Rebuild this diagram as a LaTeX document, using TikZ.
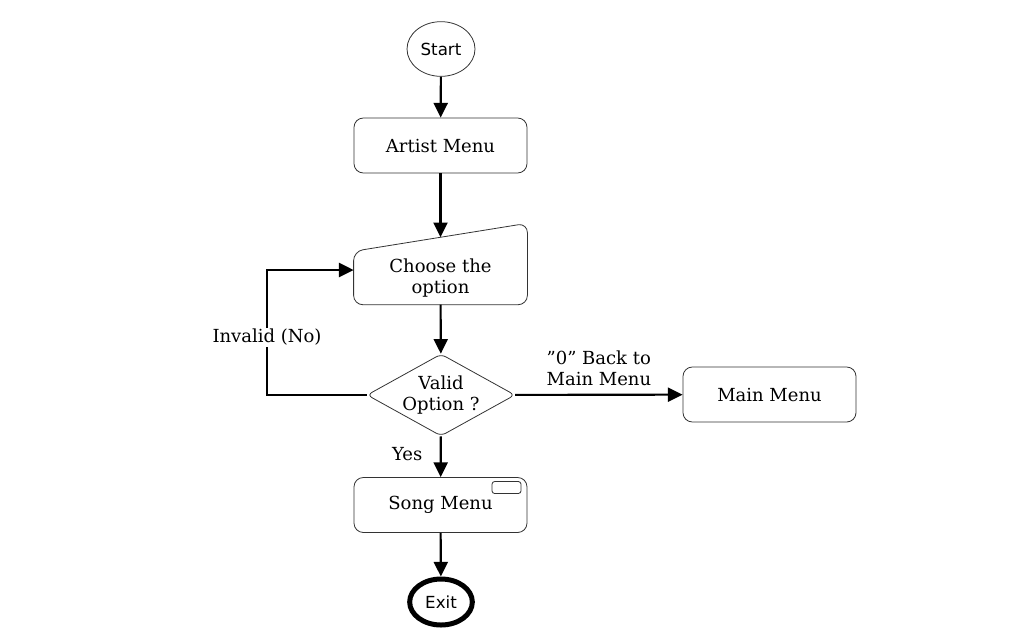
\documentclass[tikz,border=0pt]{standalone}
\usepackage{fontspec}
\setmainfont{DejaVu Serif}
\newfontfamily\termfont{DejaVu Sans}
\usetikzlibrary{arrows.meta,calc,shapes.geometric}
\tikzset{
    TE1/.style ={ellipse,minimum width = 51pt, minimum height = 41pt, inner sep=0pt, draw=black!80, line width=0.6pt, font=\termfont\fontsize{12.5}{14}\selectfont},
    TE2/.style ={ellipse,minimum width = 47pt, minimum height = 34.5pt, inner sep=0pt, draw, line width=3.75pt, font=\termfont\fontsize{12.5}{14}\selectfont},
    RA1/.style ={rectangle,rounded corners=7pt,minimum width = 129.75pt, minimum height = 41.25pt, draw=black!80, line width=0.6pt, align=center, font=\fontsize{13.5}{16}\selectfont},
    DI1/.style ={diamond,aspect=1.8,rounded corners=4pt,minimum width = 111pt, minimum height = 61.5pt, inner sep=0pt, draw=black!80, line width=0.6pt, align=center, font=\fontsize{13.5}{16}\selectfont},
    AR/.style ={-{Triangle[length=11pt,width=10.5pt]}, line width=1.6pt},
    LB/.style ={font=\fontsize{13.5}{16}\selectfont, align=left, inner sep=1pt}}

\begin{document}
\begin{tikzpicture}[x=0.75pt,y=-0.75pt]
        \useasboundingbox (0,0) rectangle (1031,640);
        \node[TE2] (exit) at(441,602){Exit};
        \node[RA1] (song) at(440.5,505){Song Menu}
            edge[AR] (exit);
        \node[draw=black!80,line width=0.6pt,rounded corners=2pt,minimum width=21.75pt,minimum height=9pt,inner sep=0pt,anchor=north east] (song-tag) at ($(song.north east)+(-4.5pt,-3pt)$){};
        \node[RA1] (main) at(769.5,394.5){Main Menu};
        \node[RA1,draw=none,minimum height=39.5pt] (choose) at(440.5,278){Choose the\\option};
        \draw[draw=black!80,line width=0.6pt,rounded corners=7pt] (choose.south west) -- (choose.north west) -- ($(choose.north east)+(0,21pt)$) -- (choose.south east) -- cycle;
        \coordinate (choose-top) at ($(choose.north)+(0,10.5pt)$);
        \node[DI1] (valid) at(441,395){Valid\\Option ?}
            edge[AR] node[LB,above=5pt,pos=0.5] {”0” Back to\\Main Menu} (main)
            edge[AR] node[LB,left,xshift=-12pt,yshift=2pt] {Yes} (song);
        \draw[AR] (choose) -- (valid);
        \coordinate (loop-a) at(267,395);
        \coordinate (loop-b) at(267,270);
        \draw[AR] (valid.west) -- (loop-a) -- node[LB,fill=white,pos=0.46] {Invalid (No)} (loop-b) -- (loop-b -| choose.west);
        \node[RA1] (artist) at(440.5,145.5){Artist Menu}
            edge[AR] (choose-top);
        \node[TE1] (start) at(441,49){Start}
            edge[AR] (artist);
\end{tikzpicture}
\end{document}
